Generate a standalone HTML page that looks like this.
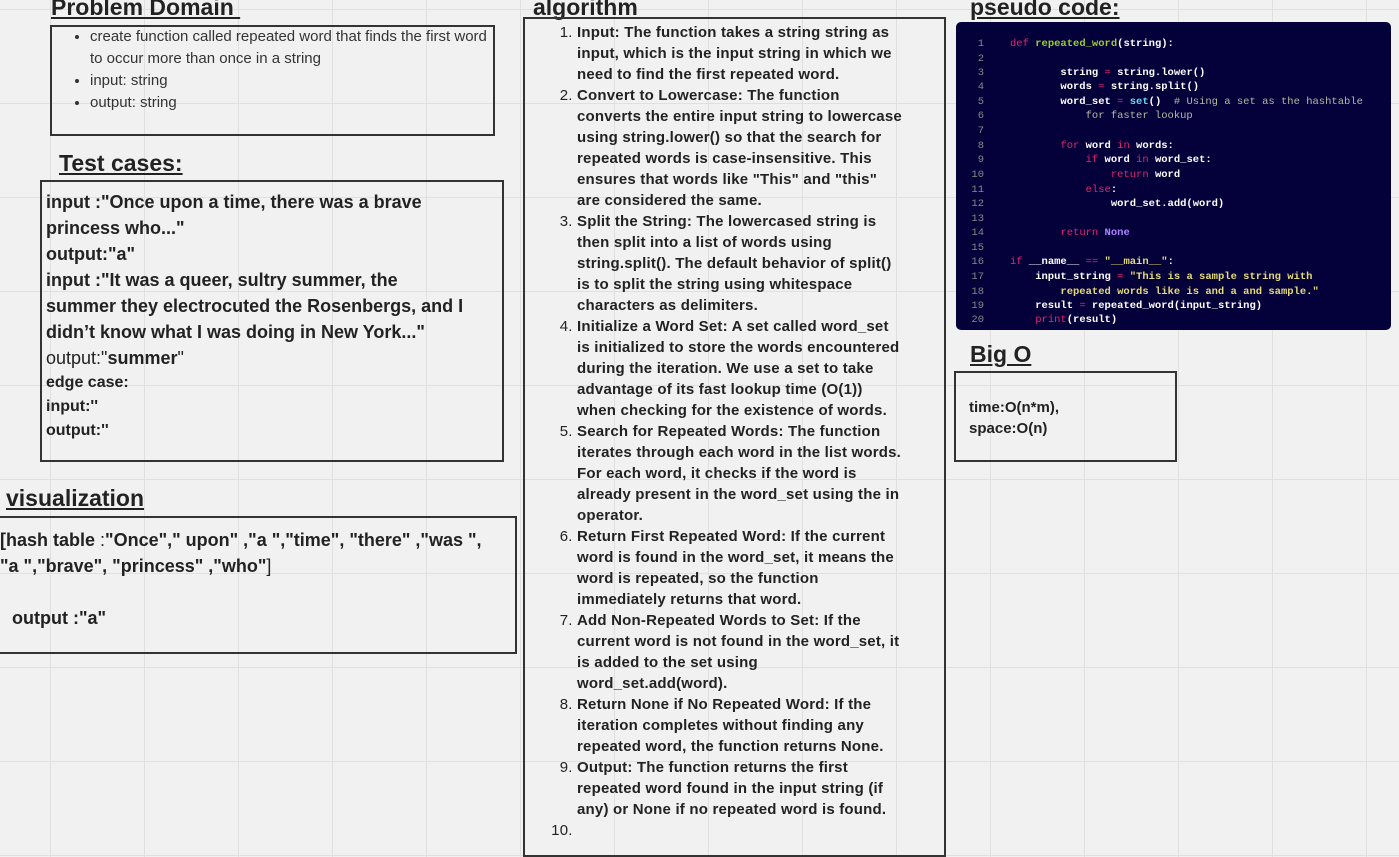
<!DOCTYPE html>
<html><head><meta charset="utf-8"><style>
body{margin:0;width:1399px;height:847px;overflow:hidden;background:#f1f1f1;font-family:"Liberation Sans",sans-serif;color:#222;position:relative;
background-image:linear-gradient(to right,#e0e0e0 1px,transparent 1px),linear-gradient(to bottom,#e0e0e0 1px,transparent 1px);background-size:94px 94px;background-position:50px 9px;}
.a{position:absolute}
.h{font-weight:bold;font-size:23px;text-decoration:underline;color:#222}
.box{position:absolute;border:2px solid #333;box-sizing:border-box}
ol{margin:0;padding-left:55px;font-size:15px;line-height:21px;font-weight:bold;color:#222;letter-spacing:0.2px}
ol li::marker{font-weight:normal}
.code{position:absolute;left:956px;top:22px;width:435px;height:308px;background:#04003a;border-radius:5px;font-family:"Liberation Mono",monospace;font-size:10.5px;color:#fff;font-weight:bold}
.ln{position:absolute;left:0;width:28px;text-align:right;color:#888;font-weight:normal}
.cl{position:absolute;left:54px;white-space:pre}
.k{color:#e8226c;font-weight:normal}.f{color:#9acd32}.s{color:#e6db74}.c{color:#b8b8a0;font-weight:normal}.n{color:#ae81ff}.b{color:#66d9ef}
</style></head><body>
<div class="a h" style="left:51px;top:-6px">Problem Domain&nbsp;</div>
<div class="box" style="left:50px;top:25px;width:445px;height:111px"></div>
<ul class="a" style="left:50px;top:26px;margin:0;padding-left:40px;width:398px;font-size:15px;line-height:22px;color:#333">
<li>create function called repeated word that finds the first word to occur more than once in a string</li><li>input: string</li><li>output: string</li></ul>
<div class="a h" style="left:59px;top:150px">Test cases:</div>
<div class="box" style="left:40px;top:180px;width:464px;height:282px"></div>
<div class="a" style="left:46px;top:189px;width:425px;font-size:18px;line-height:26px;font-weight:bold;color:#222">input :"Once upon a time, there was a brave princess who..."<br>output:"a"<br>input :"It was a queer, sultry summer, the summer they electrocuted the Rosenbergs, and I didn’t know what I was doing in New York..."<br><span style="font-weight:normal">output:"</span>summer<span style="font-weight:normal">"</span>
<div style="font-size:16px;line-height:24px">edge case:<br>input:''<br>output:''</div></div>
<div class="a h" style="left:6px;top:485px">visualization</div>
<div class="box" style="left:-4px;top:516px;width:521px;height:138px"></div>
<div class="a" style="left:0;top:527px;width:492px;font-size:18px;line-height:26px;font-weight:bold">[hash table <span style="font-weight:normal">:</span>"Once"," upon" ,"a ","time", "there" ,"was ", "a ","brave", "princess" ,"who"<span style="font-weight:normal">]</span><br><br><span style="margin-left:12px">output :"a"</span></div>
<div class="a h" style="left:533px;top:-6px">algorithm</div>
<div class="box" style="left:523px;top:17px;width:423px;height:840px"></div>
<ol class="a" style="left:522px;top:22px;width:325px">
<li>Input: The function takes a string string as input, which is the input string in which we need to find the first repeated word.</li>
<li>Convert to Lowercase: The function converts the entire input string to lowercase using string.lower() so that the search for repeated words is case-insensitive. This ensures that words like "This" and "this" are considered the same.</li>
<li>Split the String: The lowercased string is then split into a list of words using string.split(). The default behavior of split() is to split the string using whitespace characters as delimiters.</li>
<li>Initialize a Word Set: A set called word_set is initialized to store the words encountered during the iteration. We use a set to take advantage of its fast lookup time (O(1)) when checking for the existence of words.</li>
<li>Search for Repeated Words: The function iterates through each word in the list words. For each word, it checks if the word is already present in the word_set using the in operator.</li>
<li>Return First Repeated Word: If the current word is found in the word_set, it means the word is repeated, so the function immediately returns that word.</li>
<li>Add Non-Repeated Words to Set: If the current word is not found in the word_set, it is added to the set using word_set.add(word).</li>
<li>Return None if No Repeated Word: If the iteration completes without finding any repeated word, the function returns None.</li>
<li>Output: The function returns the first repeated word found in the input string (if any) or None if no repeated word is found.</li>
<li></li></ol>
<div class="a h" style="left:970px;top:-6px">pseudo code:</div>
<div class="code">
<div class="ln" style="top:16px">1</div><div class="cl" style="top:16px"><span class="k">def</span> <span class="f">repeated_word</span>(string):</div>
<div class="ln" style="top:31px">2</div>
<div class="ln" style="top:45px">3</div><div class="cl" style="top:45px">        string <span class="k">=</span> string.lower()</div>
<div class="ln" style="top:59px">4</div><div class="cl" style="top:59px">        words <span class="k">=</span> string.split()</div>
<div class="ln" style="top:74px">5</div><div class="cl" style="top:74px">        word_set <span class="k">=</span> <span class="b">set</span>()  <span class="c"># Using a set as the hashtable</span></div>
<div class="ln" style="top:88px">6</div><div class="cl c" style="top:88px">            for faster lookup</div>
<div class="ln" style="top:103px">7</div>
<div class="ln" style="top:118px">8</div><div class="cl" style="top:118px">        <span class="k">for</span> word <span class="k">in</span> words:</div>
<div class="ln" style="top:132px">9</div><div class="cl" style="top:132px">            <span class="k">if</span> word <span class="k">in</span> word_set:</div>
<div class="ln" style="top:147px">10</div><div class="cl" style="top:147px">                <span class="k">return</span> word</div>
<div class="ln" style="top:162px">11</div><div class="cl" style="top:162px">            <span class="k">else</span>:</div>
<div class="ln" style="top:176px">12</div><div class="cl" style="top:176px">                word_set.add(word)</div>
<div class="ln" style="top:191px">13</div>
<div class="ln" style="top:205px">14</div><div class="cl" style="top:205px">        <span class="k">return</span> <span class="n">None</span></div>
<div class="ln" style="top:220px">15</div>
<div class="ln" style="top:234px">16</div><div class="cl" style="top:234px"><span class="k">if</span> __name__ <span class="k">==</span> <span class="s">"__main__"</span>:</div>
<div class="ln" style="top:249px">17</div><div class="cl" style="top:249px">    input_string <span class="k">=</span> <span class="s">"This is a sample string with</span></div>
<div class="ln" style="top:264px">18</div><div class="cl s" style="top:264px">        repeated words like is and a and sample."</div>
<div class="ln" style="top:278px">19</div><div class="cl" style="top:278px">    result <span class="k">=</span> repeated_word(input_string)</div>
<div class="ln" style="top:292px">20</div><div class="cl" style="top:292px">    <span class="k">print</span>(result)</div>
</div>
<div class="a h" style="left:970px;top:341px">Big O</div>
<div class="box" style="left:954px;top:371px;width:223px;height:91px"></div>
<div class="a" style="left:969px;top:397px;font-size:15px;line-height:21px;font-weight:bold">time:O(n*m),<br>space:O(n)</div>
</body></html>
